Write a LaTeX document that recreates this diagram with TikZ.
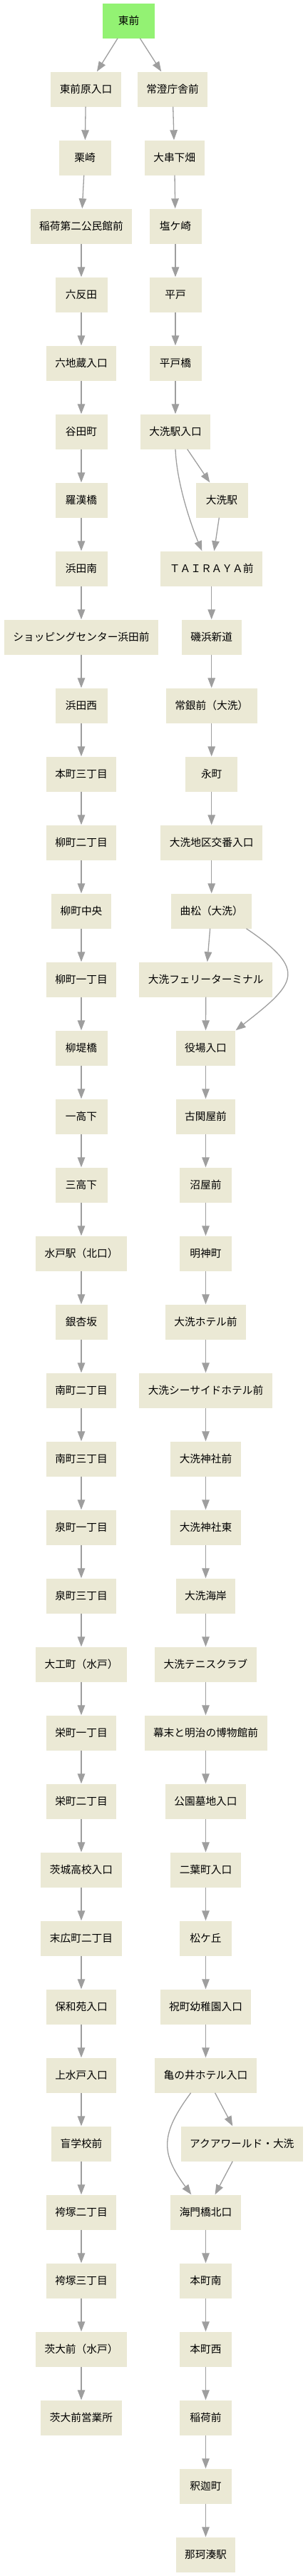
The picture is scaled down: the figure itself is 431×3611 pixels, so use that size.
\documentclass[tikz,border=0pt]{standalone}
\usepackage{fontspec}
\setmainfont{Noto Sans CJK JP}
\usetikzlibrary{arrows.meta}
\definecolor{boxfill}{RGB}{235,233,213}
\definecolor{startfill}{RGB}{147,242,115}
\definecolor{linkgray}{RGB}{158,158,158}
\tikzset{>={Triangle[length=14pt,width=10.5pt]},every node/.style={font=\fontsize{14.7}{17}\selectfont},stop/.style={fill=boxfill,minimum width=73pt,minimum height=49pt,inner xsep=12.5pt,inner ysep=0pt},link/.style={->,draw=linkgray,line width=1.3pt}}

\begin{document}
\begin{tikzpicture}[x=1pt,y=1pt]
\useasboundingbox (0,0) rectangle (431,-3611);
\node[stop,fill=startfill] (start) at (180.5,-29) {東前};
\node[stop] (l1) at (120.5,-125) {東前原入口};\node[stop] (l2) at (119,-221) {栗崎};
\foreach \t [count=\i from 3] in {稲荷第二公民館前,六反田,六地蔵入口,谷田町,羅漢橋,浜田南,ショッピングセンター浜田前,浜田西,本町三丁目,柳町二丁目,柳町中央,柳町一丁目,柳堤橋,一高下,三高下,水戸駅（北口）,銀杏坂,南町二丁目,南町三丁目,泉町一丁目,泉町三丁目,大工町（水戸）,栄町一丁目,栄町二丁目,茨城高校入口,末広町二丁目,保和苑入口,上水戸入口,盲学校前,袴塚二丁目,袴塚三丁目,茨大前（水戸）,茨大前営業所}
  \node[stop] (l\i) at (114,{-29-96*\i}) {\t};
\foreach \x/\t [count=\i] in {242/常澄庁舎前,244.7/大串下畑,246/塩ケ崎,246/平戸,246/平戸橋,246/大洗駅入口,311/大洗駅,296.7/ＴＡＩＲＡＹＡ前,296.7/磯浜新道,296.7/常銀前（大洗）,296.7/永町,296.7/大洗地区交番入口,296.7/曲松（大洗）,288.7/大洗フェリーターミナル,288.5/役場入口,288.5/古関屋前,288.5/沼屋前,288.5/明神町,288.5/大洗ホテル前,288.5/大洗シーサイドホテル前,288.5/大洗神社前,288.5/大洗神社東,288.5/大洗海岸,288.5/大洗テニスクラブ,288.5/幕末と明治の博物館前,288.5/公園墓地入口,288.5/二葉町入口,288.5/松ケ丘,288.5/祝町幼稚園入口,288.5/亀の井ホテル入口,339.3/アクアワールド・大洗,288.5/海門橋北口,288.5/本町南,288.5/本町西,288.5/稲荷前,288.5/釈迦町,288.5/那珂湊駅}
  \node[stop] (r\i) at (\x,{-29-96*\i}) {\t};
\draw[link] (start) -- (l1);\draw[link] (start) -- (r1);
\foreach \i in {1,...,34}{\pgfmathtruncatemacro\j{\i+1}\draw[link] (l\i) -- (l\j);}
\foreach \i in {1,...,36}{\pgfmathtruncatemacro\j{\i+1}\draw[link] (r\i) -- (r\j);}
\draw[link] (r6.south) .. controls +(2,-50) and +(-14,33) .. ([xshift=-13.4pt]r8.north);
\draw[link] ([xshift=-8pt]r13.south east) .. controls +(88,-59) and +(83,65) .. (r15.north east);
\draw[link] ([xshift=-20.8pt]r30.south) .. controls +(-43,-58) and +(-43,58) .. ([xshift=-20.2pt]r32.north);
\end{tikzpicture}
\end{document}
